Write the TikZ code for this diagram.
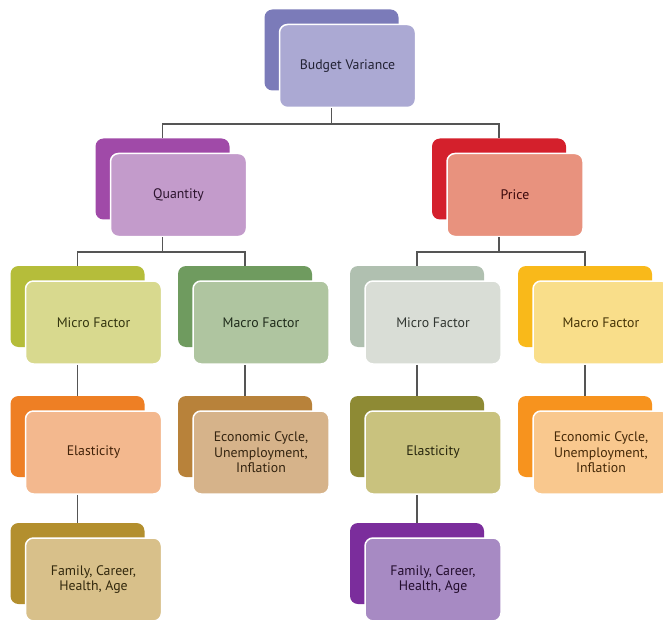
\documentclass[tikz,border=0pt]{standalone}
\usepackage{fontspec}
\setmainfont{PT Sans}
\definecolor{bvB}{HTML}{7B7BB9}\definecolor{bvF}{HTML}{ABA9D3}
\definecolor{qB}{HTML}{A04AA8}\definecolor{qF}{HTML}{C39BCB}
\definecolor{pB}{HTML}{D4202C}\definecolor{pF}{HTML}{E8927E}
\definecolor{mlB}{HTML}{B5BD3A}\definecolor{mlF}{HTML}{D8D98E}
\definecolor{malB}{HTML}{6F9B5F}\definecolor{malF}{HTML}{AFC5A0}
\definecolor{mrB}{HTML}{B0C0B0}\definecolor{mrF}{HTML}{D9DDD6}
\definecolor{marB}{HTML}{F9B91A}\definecolor{marF}{HTML}{F9DE8A}
\definecolor{elB}{HTML}{EE7F24}\definecolor{elF}{HTML}{F3B88E}
\definecolor{eclB}{HTML}{B8823A}\definecolor{eclF}{HTML}{D6B38A}
\definecolor{erB}{HTML}{8E8A34}\definecolor{erF}{HTML}{C9C27E}
\definecolor{ecrB}{HTML}{F7931E}\definecolor{ecrF}{HTML}{F9C88E}
\definecolor{flB}{HTML}{B38F2E}\definecolor{flF}{HTML}{D8C08A}
\definecolor{frB}{HTML}{7B2D9C}\definecolor{frF}{HTML}{A78AC3}
\definecolor{connC}{HTML}{555555}
\tikzset{
  backcard/.style={rectangle, rounded corners=8pt, minimum width=134pt, minimum height=81pt, inner sep=0pt},
  frontcard/.style={rectangle, rounded corners=8pt, minimum width=136pt, minimum height=83pt, inner sep=0pt,
    draw=white, line width=1.5pt, align=center, font=\fontsize{13.8}{15.5}\selectfont},
  conn/.style={draw=connC, line width=1.1pt}
}
\newcommand\mycard[6]{%
  \node[backcard, fill=#4B] (#1b) at (#2-16,#3-16) {};
  \node[frontcard, fill=#4F, text=#4B!28!black] (#1) at (#2,#3) {#6};
}
\begin{document}
\begin{tikzpicture}[x=1pt,y=-1pt]
\clip (0,0) rectangle (663,620);
\fill[white] (0,0) rectangle (663,620);
\mycard{bv}{347.5}{66}{bv}{}{Budget Variance}
\mycard{q}{178.5}{195}{q}{}{Quantity}
\mycard{p}{515}{195}{p}{}{Price}
\mycard{ml}{93.5}{322.5}{ml}{}{Micro Factor}
\mycard{mal}{261}{322.5}{mal}{}{Macro Factor}
\mycard{mr}{433}{322.5}{mr}{}{Micro Factor}
\mycard{mar}{601}{322.5}{mar}{}{Macro Factor}
\mycard{el}{93.5}{452.5}{el}{}{Elasticity}
\mycard{ecl}{261}{452.5}{ecl}{}{Economic Cycle,\\Unemployment,\\Inflation}
\mycard{er}{433}{452.5}{er}{}{Elasticity}
\mycard{ecr}{601}{452.5}{ecr}{}{Economic Cycle,\\Unemployment,\\Inflation}
\mycard{fl}{93.5}{579.5}{fl}{}{Family, Career,\\Health, Age}
\mycard{fr}{433}{579.5}{fr}{}{Family, Career,\\Health, Age}
% connectors
\draw[conn] (bvb.center |- bv.south) -- (bvb.center |- 0,124);
\draw[conn] (qb.north) -- (qb.north |- 0,124) -- (pb.north |- 0,124) -- (pb.north);
\draw[conn] (qb.center |- q.south) -- (qb.center |- 0,252);
\draw[conn] (mlb.north) -- (mlb.north |- 0,252) -- (malb.north |- 0,252) -- (malb.north);
\draw[conn] (pb.center |- p.south) -- (pb.center |- 0,252);
\draw[conn] (mrb.north) -- (mrb.north |- 0,252) -- (marb.north |- 0,252) -- (marb.north);
\draw[conn] (mlb.center |- ml.south) -- (elb.north);
\draw[conn] (malb.center |- mal.south) -- (eclb.north);
\draw[conn] (mrb.center |- mr.south) -- (erb.north);
\draw[conn] (marb.center |- mar.south) -- (ecrb.north);
\draw[conn] (elb.center |- el.south) -- (flb.north);
\draw[conn] (erb.center |- er.south) -- (frb.north);
\end{tikzpicture}
\end{document}
